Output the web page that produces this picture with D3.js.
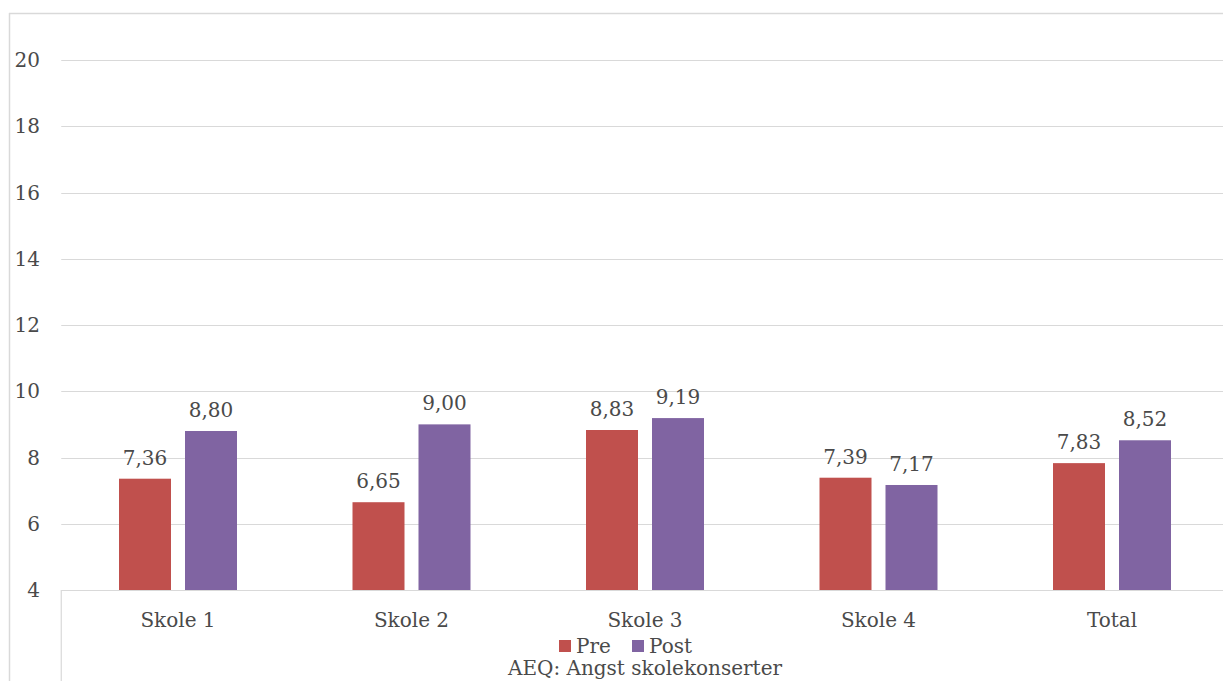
<!DOCTYPE html>
<html>
<head>
<meta charset="utf-8">
<script src="https://cdn.jsdelivr.net/npm/d3@7/dist/d3.min.js"></script>
<style>
  html, body { margin: 0; padding: 0; background: #ffffff; }
  svg { display: block; }
  text { font-family: "DejaVu Serif", "Liberation Serif", serif; fill: #4a4a4a; }
</style>
</head>
<body>
<svg id="chart" width="1223" height="681"></svg>
<script>
// Chart data
const categories = ["Skole 1", "Skole 2", "Skole 3", "Skole 4", "Total"];
const seriesNames = ["Pre", "Post"];
const preValues = [7.36, 6.65, 8.83, 7.39, 7.83];
const postValues = [8.80, 9.00, 9.19, 7.17, 8.52];
const yTicks = [4, 6, 8, 10, 12, 14, 16, 18, 20];
const seriesColors = ["#c0504d", "#8064a2"];
const chartTitle = "AEQ: Angst skolekonserter";

const svg = d3.select("#chart");
const W = 1223, H = 681;
const fontSize = "20px";

// Outer frame (left and top edges visible)
svg.append("line").attr("x1", 9.5).attr("x2", 9.5).attr("y1", 13).attr("y2", H)
  .attr("stroke", "#d9d9d9").attr("stroke-width", 1.5);
svg.append("line").attr("x1", 9).attr("x2", W).attr("y1", 13.5).attr("y2", 13.5)
  .attr("stroke", "#d9d9d9").attr("stroke-width", 1.5);

const plotLeft = 61.25, plotRight = 1228.75, plotTop = 60, plotBottom = 590;

const x = d3.scaleBand().domain(categories).range([plotLeft, plotRight]);
const y = d3.scaleLinear().domain([4, 20]).range([plotBottom, plotTop]);

// Gridlines
svg.append("g").selectAll("line").data(yTicks.filter(t => t > 4)).join("line")
  .attr("x1", plotLeft).attr("x2", W)
  .attr("y1", d => Math.round(y(d)) + 0.5).attr("y2", d => Math.round(y(d)) + 0.5)
  .attr("stroke", "#d9d9d9").attr("stroke-width", 1.2);

// Y tick labels
svg.append("g").selectAll("text").data(yTicks).join("text")
  .attr("x", 40).attr("y", d => y(d))
  .attr("dy", "0.36em")
  .attr("text-anchor", "end")
  .style("font-size", fontSize)
  .text(d => d);

// Bars
const barW = 52, gap = 14;
const rows = categories.map((c, i) => ({ cat: c, vals: [preValues[i], postValues[i]] }));
const groups = svg.append("g").selectAll("g").data(rows).join("g");

groups.each(function(d) {
  const cx = x(d.cat) + x.bandwidth() / 2;
  const g = d3.select(this);
  d.vals.forEach((v, s) => {
    const bx = s === 0 ? cx - gap / 2 - barW : cx + gap / 2;
    g.append("rect")
      .attr("x", bx).attr("width", barW)
      .attr("y", y(v)).attr("height", y(4) - y(v))
      .attr("fill", seriesColors[s]);
    g.append("text")
      .attr("x", bx + barW / 2).attr("y", y(v) - 14)
      .attr("text-anchor", "middle")
      .style("font-size", fontSize)
      .text(v.toFixed(2).replace(".", ","));
  });
});

// Category axis line and left divider below it
svg.append("line").attr("x1", plotLeft).attr("x2", W).attr("y1", plotBottom + 0.5).attr("y2", plotBottom + 0.5)
  .attr("stroke", "#d9d9d9").attr("stroke-width", 1.2);
svg.append("line").attr("x1", plotLeft).attr("x2", plotLeft).attr("y1", plotBottom).attr("y2", H)
  .attr("stroke", "#d9d9d9").attr("stroke-width", 1.2);

// Category labels
svg.append("g").selectAll("text").data(categories).join("text")
  .attr("x", d => x(d) + x.bandwidth() / 2).attr("y", 627)
  .attr("text-anchor", "middle")
  .style("font-size", fontSize)
  .text(d => d);

// Legend
const legendItems = [
  { name: seriesNames[0], color: seriesColors[0], sx: 559, tx: 576 },
  { name: seriesNames[1], color: seriesColors[1], sx: 632, tx: 649 }
];
const lg = svg.append("g");
legendItems.forEach(it => {
  lg.append("rect").attr("x", it.sx).attr("y", 640).attr("width", 12).attr("height", 12).attr("fill", it.color);
  lg.append("text").attr("x", it.tx).attr("y", 653).style("font-size", fontSize).text(it.name);
});

// Title at bottom
svg.append("text").attr("x", 645).attr("y", 675)
  .attr("text-anchor", "middle")
  .style("font-size", fontSize)
  .text(chartTitle);
</script>
</body>
</html>
